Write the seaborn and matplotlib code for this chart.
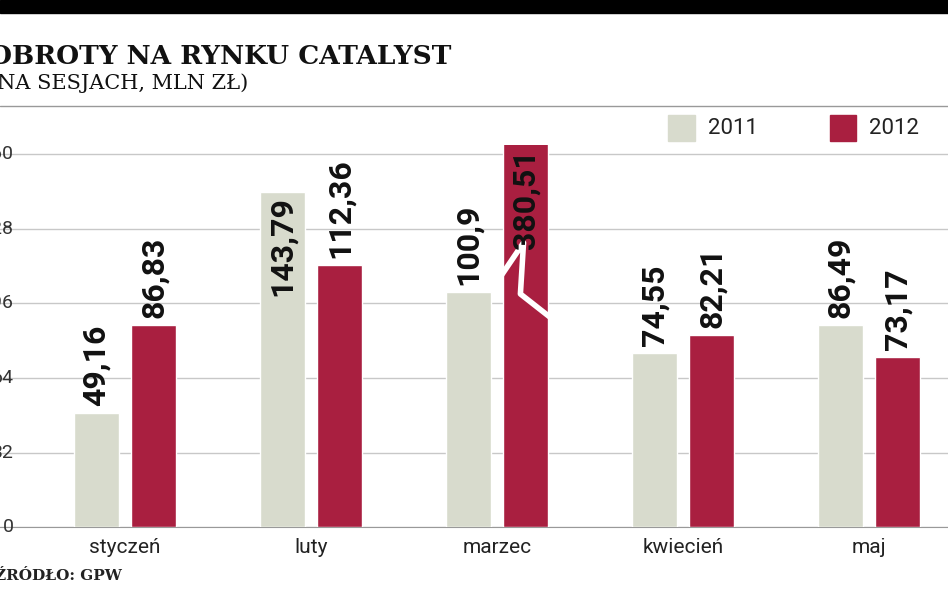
import matplotlib
matplotlib.use("Agg")
import matplotlib.pyplot as plt
import seaborn as sns
import pandas as pd
from matplotlib.patches import Rectangle

months = ["styczeń", "luty", "marzec", "kwiecień", "maj"]
v2011 = [49.16, 143.79, 100.9, 74.55, 86.49]
v2012 = [86.83, 112.36, 380.51, 82.21, 73.17]
lab2011 = ["49,16", "143,79", "100,9", "74,55", "86,49"]
lab2012 = ["86,83", "112,36", "380,51", "82,21", "73,17"]
yticks = [0, 32, 64, 96, 128, 160]
c11, c12 = "#d8dbcd", "#a91f40"

df = pd.DataFrame({"m": months * 2, "y": ["2011"] * 5 + ["2012"] * 5, "v": v2011 + v2012})

sns.set_style("white")
plt.rcParams["font.family"] = ["Roboto", "DejaVu Sans"]
fig = plt.figure(figsize=(9.48, 5.93), dpi=100)
ax = fig.add_axes([0, 0.111, 1, 0.645])
sns.barplot(data=df, x="m", y="v", hue="y", palette=[c11, c12], width=0.62, gap=0.22,
            ax=ax, legend=False, saturation=1, zorder=3)
ax.set_xlim(-0.672, 4.425)
ax.set_ylim(0, 164)
ax.set_yticks(yticks)
ax.set_yticklabels([])
ax.tick_params(length=0)
ax.grid(axis="y", color="#c8c8c8", lw=1, zorder=0)
for s in ["top", "left", "right"]:
    ax.spines[s].set_visible(False)
ax.spines["bottom"].set_color("#999999")
ax.set_xlabel(""); ax.set_ylabel("")
ax.set_xticks(range(5))
ax.set_xticklabels(months, fontsize=15, color="#222222")
ax.tick_params(axis="x", pad=8)

for t in yticks:
    ax.text(-0.6, t, str(t), ha="right", va="center", fontsize=14, color="#333333", clip_on=False)

patches = sorted(ax.patches, key=lambda p: p.get_x())
bars11 = [p for p in patches if abs(p.get_facecolor()[0] - matplotlib.colors.to_rgba(c11)[0]) < 0.02]
bars12 = [p for p in patches if p not in bars11]
top = ax.get_ylim()[1]
for bars, labs in ((bars11, lab2011), (bars12, lab2012)):
    for p, lab in zip(bars, labs):
        cx = p.get_x() + p.get_width() / 2
        h = p.get_height()
        if h > 135:
            ax.text(cx, min(h, top) - 2, lab, rotation=90, ha="center", va="top",
                    fontsize=23, fontweight="bold", color="#111111", zorder=5)
        else:
            ax.text(cx, h + 3, lab, rotation=90, ha="center", va="bottom",
                    fontsize=23, fontweight="bold", color="#111111", zorder=5, clip_on=False)
# break mark on tall bar
p = bars12[2]
x0, w = p.get_x(), p.get_width()
ax.plot([x0 - 0.01, x0 + w * 0.45, x0 + w * 0.38, x0 + w + 0.01],
        [108, 122, 100, 90], color="white", lw=4, zorder=4, solid_capstyle="butt")

# decorations
fig.patches.append(Rectangle((0, 0.978), 1, 0.022, transform=fig.transFigure, color="black"))
fig.text(-0.012, 0.905, "OBROTY NA RYNKU CATALYST", fontsize=19, fontweight="bold",
         family=["DejaVu Serif"], color="#111111", va="center")
fig.text(-0.012, 0.86, "(NA SESJACH, MLN ZŁ)", fontsize=15, family=["DejaVu Serif"],
         color="#111111", va="center")
fig.add_artist(plt.Line2D([0, 1], [0.822, 0.822], color="#999999", lw=1, transform=fig.transFigure))
for xx, col, lab in ((0.705, c11, "2011"), (0.875, c12, "2012")):
    fig.patches.append(Rectangle((xx, 0.762), 0.028, 0.044, transform=fig.transFigure, color=col))
    fig.text(xx + 0.042, 0.783, lab, fontsize=16, color="#222222", va="center")
fig.text(-0.005, 0.022, "ŹRÓDŁO: GPW", fontsize=11, fontweight="bold", family=["DejaVu Serif"],
         color="#222222")
fig.savefig("out.png", dpi=100)
